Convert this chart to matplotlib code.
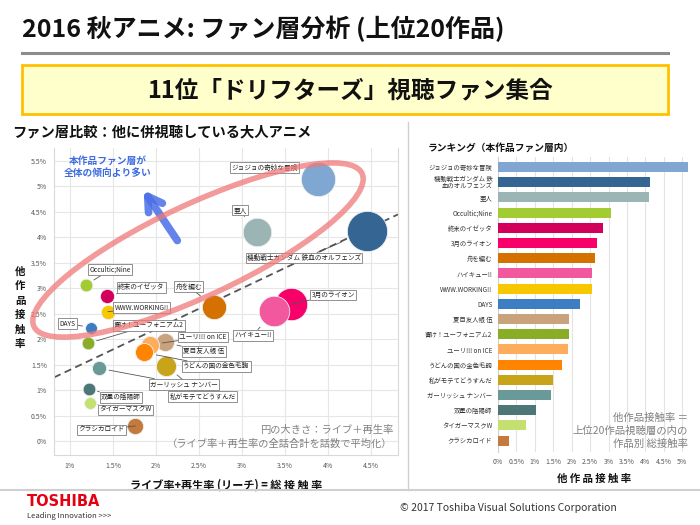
import numpy as np
import matplotlib
import matplotlib.pyplot as plt
from matplotlib.patches import Rectangle, Ellipse
from matplotlib.lines import Line2D
from matplotlib.transforms import IdentityTransform
from matplotlib.ticker import FuncFormatter

plt.rcParams['font.family'] = ['Noto Sans CJK JP', 'DejaVu Sans']

# ranking order (fan layer of this title)
titles = ['ジョジョの奇妙な冒険', '機動戦士ガンダム 鉄血のオルフェンズ', '亜人', 'Occultic;Nine',
          '終末のイゼッタ', '3月のライオン', '舟を編む', 'ハイキュー!!', 'WWW.WORKING!!', 'DAYS',
          '夏目友人帳 伍', '響け！ユーフォニアム2', 'ユーリ!!! on ICE', 'うどんの国の金色毛鞠',
          '私がモテてどうすんだ', 'ガーリッシュ ナンバー', '双星の陰陽師', 'タイガーマスクW', 'クラシカロイド']
bar_labels = ['ジョジョの奇妙な冒険', '機動戦士ガンダム 鉄\n血のオルフェンズ', '亜人', 'Occultic;Nine',
              '終末のイゼッタ', '3月のライオン', '舟を編む', 'ハイキュー!!', 'WWW.WORKING!!', 'DAYS',
              '夏目友人帳 伍', '響け！ユーフォニアム2', 'ユーリ!!! on ICE', 'うどんの国の金色毛鞠',
              '私がモテてどうすんだ', 'ガーリッシュ ナンバー', '双星の陰陽師', 'タイガーマスクW', 'クラシカロイド']
# other-title contact rate (%)
other_rate = [5.15, 4.12, 4.10, 3.07, 2.84, 2.69, 2.64, 2.55, 2.54, 2.23,
              1.94, 1.92, 1.89, 1.74, 1.48, 1.43, 1.02, 0.75, 0.30]
# live + playback rate, reach (%)
reach = [3.88, 4.45, 3.17, 1.19, 1.43, 3.57, 2.67, 3.37, 1.44, 1.24,
         2.10, 1.21, 1.93, 1.86, 2.12, 1.34, 1.22, 1.23, 1.76]
# average live + playback rate per episode (bubble size)
avg_rate = [2.9, 4.0, 2.0, 0.4, 0.5, 2.6, 1.45, 2.3, 0.5, 0.35,
            0.8, 0.4, 0.8, 0.8, 1.0, 0.5, 0.4, 0.35, 0.65]
colors = ['#7fa7d1', '#346593', '#9ab5b4', '#a3cc33', '#d2005a', '#f7006a', '#d47100', '#f2589d',
          '#f7c800', '#3d7ec2', '#c9a27e', '#8aad28', '#fdad5b', '#ff8400', '#c8a41b', '#699a98',
          '#4d7676', '#c4e070', '#c47a3c']
# dashed trend line
trend_intercept = 0.60
trend_slope = 0.80

# label offsets from bubble (pixels)
label_off = [(-53, 11), (-63, -27), (-17, 22), (24, 15), (34, 9), (42, 9), (-25, 20), (-21, -24),
             (34, 4), (-23, 4), (39, -9), (61, 18), (53, 8), (72, -14), (36, -31), (85, -16),
             (32, -8), (36, -7), (-34, -4)]

W, H = 700, 525
fx = lambda px: px / W
fy = lambda py: 1 - py / H

fig = plt.figure(figsize=(7, 5.25), dpi=100)

# header
fig.text(fx(22), fy(29), '2016 秋アニメ: ファン層分析 (上位20作品)', fontsize=18, fontweight='bold',
         va='center', ha='left', color='#111111')
fig.add_artist(Line2D([fx(22), fx(668)], [fy(53), fy(53)], color='#8c8c8c', lw=2.2))
fig.add_artist(Rectangle((fx(22), fy(114)), (668 - 22) / W, 49 / H, transform=fig.transFigure,
                         fc='#ffffcc', ec='#ffc000', lw=2))
fig.text(0.5, fy(90), '11位「ドリフターズ」視聴ファン集合', fontsize=17, fontweight='bold',
         ha='center', va='center', color='#111111')

# separators / footer
fig.add_artist(Line2D([fx(408), fx(408)], [fy(122), fy(490)], color='#cfcfcf', lw=1))
fig.add_artist(Line2D([0, 1], [fy(490), fy(490)], color='#d0d0d0', lw=1.5))
fig.text(fx(27), fy(502), 'TOSHIBA', fontsize=10.5, fontweight='bold', color='#e60012',
         va='center', family=['DejaVu Sans'])
fig.text(fx(27), fy(516), 'Leading Innovation >>>', fontsize=5.5, color='#333333', va='center')
fig.text(fx(400), fy(508), '© 2017 Toshiba Visual Solutions Corporation', fontsize=7.5,
         color='#333333', va='center')

# ---------- scatter ----------
fig.text(fx(12), fy(132), 'ファン層比較：他に併視聴している大人アニメ', fontsize=10.3, fontweight='bold',
         va='center', color='#111111')
ax = fig.add_axes([fx(54), fy(455), (398 - 54) / W, (455 - 148) / H])
ax.set_xlim(0.814, 4.81)
ax.set_ylim(-0.27, 5.75)
ax.set_xticks(np.arange(1, 4.51, 0.5))
ax.set_yticks(np.arange(0, 5.51, 0.5))
pct = FuncFormatter(lambda v, p: f'{v:g}%')
ax.xaxis.set_major_formatter(pct)
ax.yaxis.set_major_formatter(pct)
ax.tick_params(length=0, labelsize=5, labelcolor='#595959', pad=5)
ax.grid(color='#e6e6e6', lw=0.8)
ax.set_axisbelow(True)
ax.spines['top'].set_visible(False)
for s in ['left', 'bottom', 'right']:
    ax.spines[s].set_color('#d9d9d9')

xs = np.array(reach)
ys = np.array(other_rate)
xl = np.linspace(0.814, 4.81, 2)
ax.plot(xl, trend_intercept + trend_slope * xl, ls=(0, (4, 2.5)), color='#555555', lw=1.3, zorder=2)

for i in range(len(titles)):
    ax.scatter(xs[i], ys[i], s=avg_rate[i] * 210, color=colors[i], edgecolor='#f0f0f0',
               lw=0.6, zorder=3)
for i in range(len(titles)):
    r = np.sqrt(avg_rate[i] * 210) / 2 * 1.39
    ax.annotate(titles[i], (xs[i], ys[i]), xytext=label_off[i], textcoords='offset pixels',
                fontsize=4.8, ha='center', va='center', color='#222222', zorder=5,
                bbox=dict(boxstyle='square,pad=0.2', fc='white', ec='#7f7f7f', lw=0.6),
                arrowprops=dict(arrowstyle='-', color='#555555', lw=0.6, shrinkA=0, shrinkB=r))

fig.text(fx(20), fy(308), '他\n作\n品\n接\n触\n率', fontsize=7.5, fontweight='bold', ha='center',
         va='center', linespacing=1.55, color='#111111')
ax.set_xlabel('ライブ率+再生率 (リーチ) = 総 接 触 率', fontsize=8, fontweight='bold', labelpad=6,
              color='#111111')

ax.text(0.157, 0.938, '本作品ファン層が\n全体の傾向より多い', transform=ax.transAxes, fontsize=7,
        fontweight='bold', color='#3d6be0', ha='center', va='center', linespacing=1.3)
ax.annotate('', xy=(0.256, 0.870), xytext=(0.363, 0.691), xycoords='axes fraction',
            arrowprops=dict(arrowstyle='->,head_length=1.0,head_width=0.6', lw=5.5,
                            color='#4a6ee8', alpha=0.85, capstyle='round', joinstyle='round'))
fig.add_artist(Ellipse((198, H - 250), 362, 92, angle=25, transform=IdentityTransform(),
                       fill=False, ec='#f07878', lw=4, alpha=0.75))

ax.text(0.985, 0.059, '円の大きさ：ライブ＋再生率\n（ライブ率＋再生率の全話合計を話数で平均化）',
        transform=ax.transAxes, fontsize=7.4, color='#808080', ha='right', va='center', linespacing=1.35)

# ---------- ranking bars ----------
fig.text(fx(428), fy(148), 'ランキング（本作品ファン層内）', fontsize=7, fontweight='bold',
         va='center', color='#111111')
ax2 = fig.add_axes([fx(498), fy(452), (690 - 498) / W, (452 - 157) / H])
pos = np.arange(len(titles))
ax2.barh(pos, other_rate, height=0.65, color=colors, zorder=3)
ax2.set_ylim(len(titles) - 0.25, -0.66)
ax2.set_xlim(0, 5.21)
ax2.set_yticks(pos)
ax2.set_yticklabels(bar_labels, linespacing=0.95)
ax2.set_xticks(np.arange(0, 5.01, 0.5))
ax2.xaxis.set_major_formatter(pct)
ax2.tick_params(length=0, labelsize=5, labelcolor='#595959', pad=4)
ax2.tick_params(axis='y', labelsize=4.6, labelcolor='#333333')
ax2.grid(axis='x', color='#e3e3e3', lw=0.8)
ax2.set_axisbelow(True)
for s in ['top', 'right', 'bottom']:
    ax2.spines[s].set_visible(False)
ax2.spines['left'].set_color('#d0d0d0')
ax2.set_xlabel('他 作 品 接 触 率', fontsize=7.5, fontweight='bold', labelpad=6, color='#111111')
ax2.text(0.99, 0.071, '他作品接触率 ＝\n上位20作品視聴層の内の\n作品別 総接触率', transform=ax2.transAxes,
         fontsize=7.5, color='#808080', ha='right', va='center', linespacing=1.35)

fig.savefig('out.png', dpi=100)
